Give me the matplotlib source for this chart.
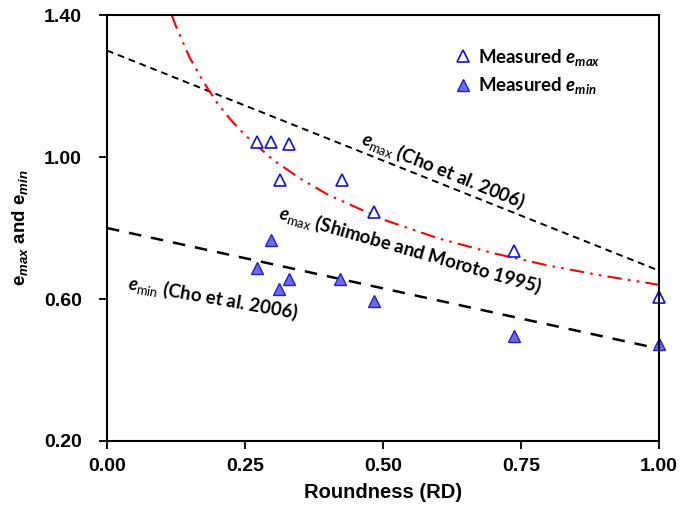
"""
Void ratio limits (emax / emin) against particle roundness, with
the Cho et al. (2006) and Shimobe and Moroto (1995) trend lines.
"""

import matplotlib
matplotlib.use("Agg")
import matplotlib.pyplot as plt

# measured points
rd_emax = [0.271, 0.298, 0.330, 0.313, 0.425, 0.484, 0.737, 1.00]
emax_meas = [1.043, 1.043, 1.037, 0.935, 0.935, 0.846, 0.736, 0.605]
rd_emin = [0.298, 0.271, 0.330, 0.312, 0.423, 0.484, 0.737, 1.00]
emin_meas = [0.766, 0.686, 0.655, 0.627, 0.655, 0.595, 0.496, 0.473]

# trend lines
cho_rd = [0.0, 1.0]
cho_emax = [1.30, 0.68]
cho_emin = [0.80, 0.46]
shim_rd = [0.117, 0.125, 0.15, 0.175, 0.2, 0.225, 0.25, 0.3, 0.35, 0.4,
           0.5, 0.6, 0.7, 0.8, 0.9, 1.0]
shim_emax = [1.40, 1.368, 1.279, 1.211, 1.151, 1.103, 1.062, 0.993, 0.939,
             0.894, 0.824, 0.771, 0.729, 0.694, 0.665, 0.640]

x_ticks = [0.0, 0.25, 0.5, 0.75, 1.0]
y_ticks = [0.2, 0.6, 1.0, 1.4]

plt.rcParams["mathtext.fontset"] = "custom"
plt.rcParams["mathtext.rm"] = "Lato"
plt.rcParams["mathtext.it"] = "Lato:italic:bold"
plt.rcParams["mathtext.bf"] = "Liberation Sans:bold"
plt.rcParams["mathtext.sf"] = "Liberation Sans:italic:bold"

fig = plt.figure(figsize=(6.96, 5.09), dpi=100)
ax = fig.add_axes([0.1537, 0.1336, 0.7931, 0.8369])

# lines
ax.plot(cho_rd, cho_emax, color="black", lw=1.4, dashes=(3.5, 2.5))
ax.plot(cho_rd, cho_emin, color="black", lw=1.8, dashes=(5, 4))
ax.plot(shim_rd, shim_emax, color="red", lw=1.5,
        dashes=(7, 3, 1.2, 3, 1.2, 3))

# points
ax.plot(rd_emax, emax_meas, ls="none", marker="^", ms=9, mfc="white",
        mec="#1010d8", mew=1.2, clip_on=False,
        label=r"Measured $\mathit{e}_{\mathit{max}}$")
ax.plot(rd_emin, emin_meas, ls="none", marker="^", ms=9, mfc="#6b6be8",
        mec="#2020d0", mew=1.0, clip_on=False,
        label=r"Measured $\mathit{e}_{\mathit{min}}$")

# line labels
lbl = dict(family="Lato", weight="bold", fontsize=13.4,
           ha="center", va="center", rotation_mode="anchor")
ax.text(0.609, 0.963, r"$\mathit{e}_{\mathrm{max}}$ (Cho et al. 2006)",
        rotation=-22, **lbl)
ax.text(0.549, 0.738,
        r"$\mathit{e}_{\mathrm{max}}$ (Shimobe and Moroto 1995)",
        rotation=-16, **lbl)
ax.text(0.192, 0.603, r"$\mathit{e}_{\mathrm{min}}$ (Cho et al. 2006)",
        rotation=-10, **lbl)

leg = ax.legend(loc="upper left", bbox_to_anchor=(0.595, 0.965), frameon=False,
                handletextpad=0.2, handlelength=1.2, labelspacing=0.42,
                prop={"family": "Lato", "weight": "bold", "size": 13.4})

ax.set_xlim(0, 1)
ax.set_ylim(0.2, 1.4)
ax.set_xticks(x_ticks)
ax.set_yticks(y_ticks)
ax.set_xticklabels([f"{v:.2f}" for v in x_ticks],
                   family="Liberation Sans", weight="bold", fontsize=14)
ax.set_yticklabels([f"{v:.2f}" for v in y_ticks],
                   family="Liberation Sans", weight="bold", fontsize=14)
ax.tick_params(direction="out", length=6, width=1.3, pad=6)
ax.tick_params(axis="y", pad=12)
for s in ax.spines.values():
    s.set_linewidth(1.5)

ax.set_xlabel("Roundness (RD)", family="Liberation Sans", weight="bold",
              fontsize=14.5, labelpad=6)
ax.set_ylabel(r"$\mathbf{e}_{\mathsf{max}}$ and $\mathbf{e}_{\mathsf{min}}$",
              family="Liberation Sans", weight="bold", fontsize=13.5,
              labelpad=10)

fig.savefig("out.png", dpi=100)
